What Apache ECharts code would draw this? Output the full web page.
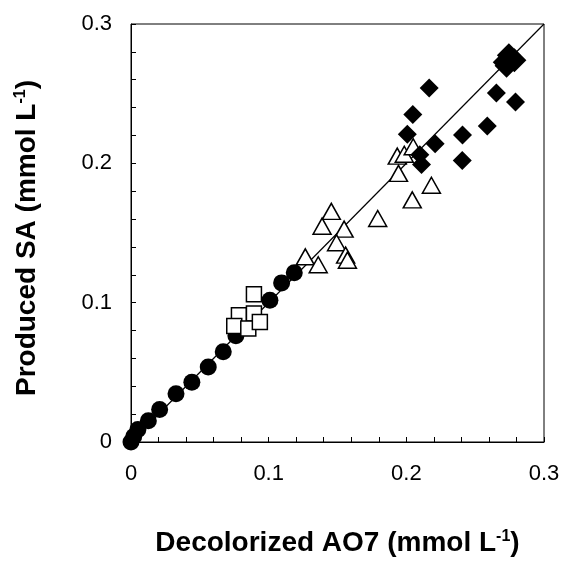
<!DOCTYPE html>
<html><head><meta charset="utf-8">
<script src="https://cdn.jsdelivr.net/npm/echarts@6/dist/echarts.min.js"></script>
<style>html,body{margin:0;padding:0;background:#fff}#c{width:564px;height:566px}</style>
</head><body><div id="c"></div>
<script>
const xTicks = [0, 0.1, 0.2, 0.3];
const yTicks = [0, 0.1, 0.2, 0.3];
const fitLine = [[0, 0], [0.3, 0.3]];
const circles = [[0,0],[0.002,0.004],[0.005,0.009],[0.0126,0.0153],[0.0208,0.0233],[0.0327,0.0347],[0.0442,0.0429],[0.0561,0.0539],[0.067,0.0648],[0.0762,0.0762],[0.1009,0.1017],[0.1094,0.1142],[0.1186,0.1214]];
const squares = [[0.0893,0.106],[0.0784,0.091],[0.0893,0.0922],[0.075,0.0833],[0.0852,0.0814],[0.0936,0.0862]];
const triangles = [[0.1455,0.1655],[0.1388,0.1549],[0.1548,0.1528],[0.1493,0.143],[0.1266,0.1329],[0.136,0.1272],[0.1559,0.1341],[0.1572,0.1305],[0.1792,0.1604],[0.1934,0.2052],[0.1985,0.2065],[0.205,0.2119],[0.1943,0.1928],[0.2043,0.1738],[0.2182,0.1843]];
const diamonds = [[0.2166,0.2541],[0.2047,0.2351],[0.2007,0.2208],[0.2098,0.2062],[0.211,0.1992],[0.2209,0.214],[0.2408,0.2203],[0.2406,0.202],[0.2588,0.2268],[0.2654,0.2505],[0.2793,0.2441]];
const bigDiamonds = [[0.2715,0.2725],[0.2745,0.2775],[0.2785,0.274],[0.2728,0.2700]];

const chart = echarts.init(document.getElementById('c'));
const font = 'Liberation Sans, Arial, sans-serif';
const titleRich = {
  b: {fontFamily: font, fontSize: 28, fontWeight: 'bold', color: '#000'},
  s: {fontFamily: font, fontSize: 16, fontWeight: 'bold', color: '#000', verticalAlign: 'top', padding: [0,0,12,0]}
};
const tickFmt = ticks => v => { const t = ticks.find(k => Math.abs(k - v) < 1e-9); return t === undefined ? '' : String(t); };
chart.setOption({
  animation: false,
  grid: {left: 131, right: 20, top: 24, bottom: 124, show: true, borderColor: '#000', borderWidth: 1},
  xAxis: {
    type: 'value', min: 0, max: 0.3, interval: 0.1,
    axisLine: {show: true, lineStyle: {color: '#000', width: 1}},
    axisTick: {show: true, inside: true, length: 5, lineStyle: {color: '#000'}},
    minorTick: {show: true, splitNumber: 5, length: 5, lineStyle: {color: '#000'}},
    splitLine: {show: false},
    axisLabel: {fontFamily: font, fontSize: 22, color: '#000', margin: 21, formatter: tickFmt(xTicks)},
    name: '{b|Decolorized AO7 (mmol L}{s|-1}{b|)}',
    nameLocation: 'middle', nameGap: 87,
    nameTextStyle: {rich: titleRich}
  },
  yAxis: {
    type: 'value', min: 0, max: 0.3, interval: 0.1,
    axisLine: {show: true, lineStyle: {color: '#000', width: 1}},
    axisTick: {show: true, inside: true, length: 5, lineStyle: {color: '#000'}},
    minorTick: {show: true, splitNumber: 5, length: 5, lineStyle: {color: '#000'}},
    splitLine: {show: false},
    axisLabel: {fontFamily: font, fontSize: 22, color: '#000', margin: 19, formatter: tickFmt(yTicks)},
    name: '{b|Produced SA (mmol L}{s|-1}{b|)}',
    nameLocation: 'middle', nameGap: 90, nameRotate: 90,
    nameTextStyle: {rich: titleRich, padding: [0, 10, 0, 0]}
  },
  series: [
    {type: 'line', data: fitLine, symbol: 'none', lineStyle: {color: '#000', width: 1.2}, z: 1},
    {type: 'scatter', data: circles, symbol: 'circle', symbolSize: 17, itemStyle: {color: '#000', opacity: 1}, z: 2},
    {type: 'scatter', data: squares, symbol: 'rect', symbolSize: 15, itemStyle: {color: '#fff', borderColor: '#000', borderWidth: 1.5, opacity: 1}, z: 3},
    {type: 'scatter', data: triangles, symbol: 'triangle', symbolSize: [18, 16], itemStyle: {color: '#fff', borderColor: '#000', borderWidth: 1.5, opacity: 1}, z: 4},
    {type: 'scatter', data: diamonds, symbol: 'diamond', symbolSize: [19, 19], itemStyle: {color: '#000', opacity: 1}, z: 5},
    {type: 'scatter', data: bigDiamonds, symbol: 'diamond', symbolSize: [24, 24], itemStyle: {color: '#000', opacity: 1}, z: 5}
  ]
});
</script></body></html>
